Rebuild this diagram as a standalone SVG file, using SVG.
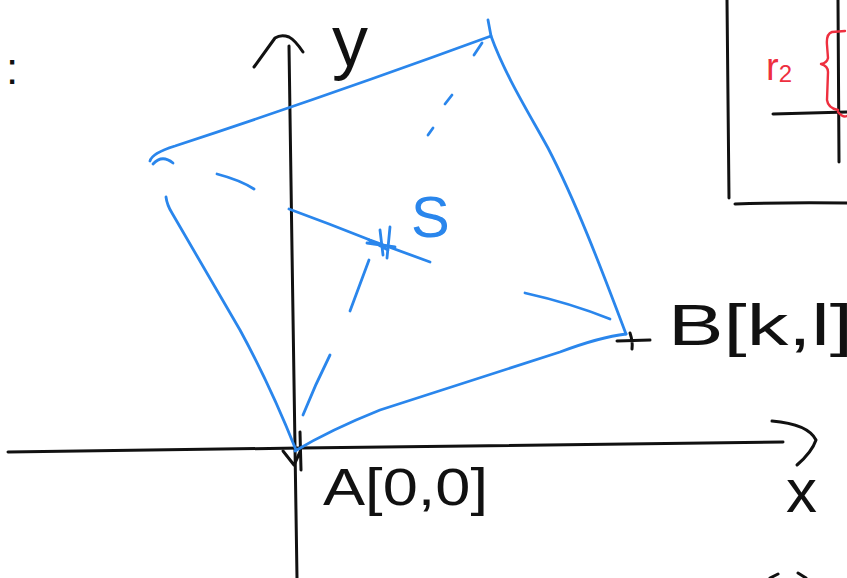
<svg xmlns="http://www.w3.org/2000/svg" width="847" height="578" viewBox="0 0 847 578">
<style>
.k{fill:none;stroke:#111;stroke-width:3;stroke-linecap:round;stroke-linejoin:round}
.b{fill:none;stroke:#2a86ec;stroke-width:2.8;stroke-linecap:round;stroke-linejoin:round}
.r{fill:none;stroke:#ee2f3f;stroke-width:2.4;stroke-linecap:round;stroke-linejoin:round}
.tk{font-family:"Liberation Sans","DejaVu Sans",sans-serif;fill:#111}
.tb{font-family:"Liberation Sans","DejaVu Sans",sans-serif;fill:#2a86ec}
.tr{font-family:"Liberation Sans","DejaVu Sans",sans-serif;fill:#ee2f3f}
</style>
<rect width="847" height="578" fill="#fff"/>
<g id="axes">
<path class="k" d="M8,452 L300,448 Q550,444 783,442"/>
<path class="k" d="M772,421 Q808,424 816,440 Q812,452 797,465"/>
<path class="k" d="M289,46 L292,250 L297,578"/>
<path class="k" d="M254,67 L275,38 Q281,34 289,37 Q295,40 303,52"/>
<path class="k" d="M283,451 L294,465 L300,452 M300,432 L301,470"/>
<path class="k" d="M617,341 L650,340 M630,333 Q633,342 632,349"/>
</g>
<g id="square">
<path class="b" d="M150,161 Q152,153 175,146 Q330,95 491,36"/>
<path class="b" d="M153,164 Q162,154 173,163"/>
<path class="b" d="M488,20 L491,36 C505,75 530,115 548,148 C575,200 600,265 626,334"/>
<path class="b" d="M166,197 Q167,205 172,213 L240,330 Q270,385 296,450"/>
<path class="b" d="M295,451 Q330,430 380,410 L560,352 Q600,337 626,334"/>
</g>
<g id="diagonals">
<path class="b" d="M217,174 Q240,180 254,189"/>
<path class="b" d="M289,209 Q330,224 370,240 L430,262"/>
<path class="b" d="M525,293 Q570,303 610,319"/>
<path class="b" d="M474,55 L482,43 M445,104 L452,95 M428,135 L433,128"/>
<path class="b" d="M350,311 L369,260"/>
<path class="b" d="M303,415 Q315,385 330,355"/>
<path class="b" d="M380,230 L383,255 M390,227 L387,258 M367,243 L395,247 M369,240 L388,250"/>
</g>
<g id="inset">
<path class="k" d="M727,0 L729,198"/>
<path class="k" d="M735,204 Q790,202 847,203"/>
<path class="k" d="M773,114 L847,112"/>
<path class="k" d="M838,0 L839,162"/>
<path class="r" d="M845,31 L832,32 Q826,34 827,45 L828,58 Q827,63 821,64 Q828,66 828,72 L827,100 Q828,108 838,110 M838,112 Q843,118 847,116"/>
<text class="tr" x="766" y="80" font-size="38">r<tspan font-size="24" dy="2">2</tspan></text>
</g>
<g id="labels">
<text class="tk" x="332" y="66" font-size="72">y</text>
<text class="tb" x="411" y="237" font-size="58">S</text>
<text class="tk" x="668" y="345" font-size="58" textLength="185" lengthAdjust="spacingAndGlyphs">B[k,l]</text>
<text class="tk" x="323" y="505" font-size="52" textLength="165" lengthAdjust="spacingAndGlyphs">A[0,0]</text>
<text class="tk" x="786" y="512" font-size="62">x</text>
<text class="tk" x="6" y="84" font-size="44">:</text>
</g>
<path class="k" d="M770,578 L778,574 M798,573 L806,578"/>
</svg>
